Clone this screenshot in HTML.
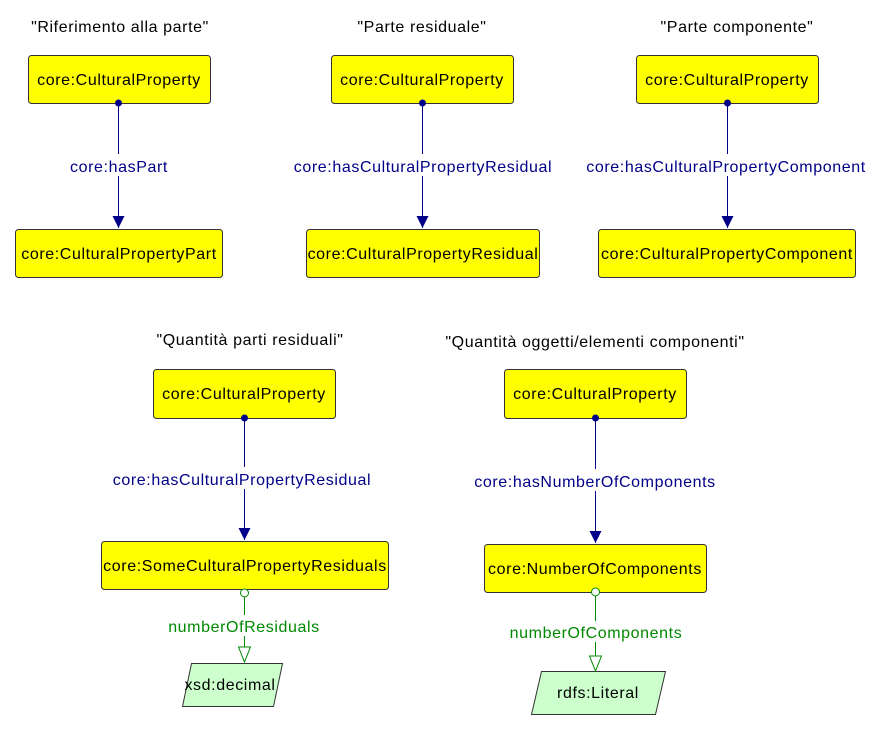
<!DOCTYPE html>
<html><head><meta charset="utf-8"><style>
html,body{margin:0;padding:0;background:#fff}
svg text{font-family:"Liberation Sans",sans-serif;font-size:16px;letter-spacing:0.6px}
</style></head><body>
<svg width="885" height="729" viewBox="0 0 885 729" xmlns="http://www.w3.org/2000/svg">
<defs>
<marker id="a" viewBox="0 0 10 10" refX="10" refY="5" markerWidth="12" markerHeight="12" markerUnits="userSpaceOnUse" orient="auto"><path d="M0,0L10,5L0,10z" fill="#000088"/></marker>
</defs>
<g fill="#000" text-anchor="middle">
<text x="120" y="32">"Riferimento alla parte"</text>
<text x="422" y="32">"Parte residuale"</text>
<text x="737" y="32">"Parte componente"</text>
<text x="250" y="345">"Quantità parti residuali"</text>
<text x="595" y="347">"Quantità oggetti/elementi componenti"</text>
</g>
<g fill="#ffff00" stroke="#333" stroke-width="1">
<rect x="28.5" y="55.5" width="182" height="48" rx="3"/>
<rect x="15.5" y="229.5" width="207" height="48" rx="3"/>
<rect x="331.5" y="55.5" width="182" height="48" rx="3"/>
<rect x="306.5" y="229.5" width="233" height="48" rx="3"/>
<rect x="636.5" y="55.5" width="182" height="48" rx="3"/>
<rect x="598.5" y="229.5" width="257" height="48" rx="3"/>
<rect x="153.5" y="369.5" width="182" height="49" rx="3"/>
<rect x="101.5" y="541.5" width="287" height="48" rx="3"/>
<rect x="504.5" y="369.5" width="182" height="49" rx="3"/>
<rect x="484.5" y="544.5" width="222" height="48" rx="3"/>
</g>
<g fill="#ccffcc" stroke="#333">
<polygon points="191.5,663.5 282.5,663.5 273.5,706.5 182.5,706.5"/>
<polygon points="541.5,671.5 665.5,671.5 655.5,714.5 531.5,714.5"/>
</g>
<g fill="#000" text-anchor="middle">
<text x="119" y="85">core:CulturalProperty</text>
<text x="119" y="259">core:CulturalPropertyPart</text>
<text x="422" y="85">core:CulturalProperty</text>
<text x="423" y="259">core:CulturalPropertyResidual</text>
<text x="727" y="85">core:CulturalProperty</text>
<text x="727" y="259">core:CulturalPropertyComponent</text>
<text x="244" y="399">core:CulturalProperty</text>
<text x="245" y="571">core:SomeCulturalPropertyResiduals</text>
<text x="595" y="399">core:CulturalProperty</text>
<text x="595" y="574">core:NumberOfComponents</text>
<text x="230" y="690">xsd:decimal</text>
<text x="598" y="698">rdfs:Literal</text>
</g>
<g stroke="#000088" stroke-width="1" fill="none">
<line x1="118.5" y1="103" x2="118.5" y2="154"/><line x1="118.5" y1="176" x2="118.5" y2="228" marker-end="url(#a)"/>
<line x1="422.5" y1="103" x2="422.5" y2="154"/><line x1="422.5" y1="176" x2="422.5" y2="228" marker-end="url(#a)"/>
<line x1="727.5" y1="103" x2="727.5" y2="154"/><line x1="727.5" y1="176" x2="727.5" y2="228" marker-end="url(#a)"/>
<line x1="244.5" y1="418" x2="244.5" y2="467"/><line x1="244.5" y1="489" x2="244.5" y2="540" marker-end="url(#a)"/>
<line x1="595.5" y1="418" x2="595.5" y2="469"/><line x1="595.5" y1="491" x2="595.5" y2="543" marker-end="url(#a)"/>
</g>
<g fill="#000088">
<circle cx="118.5" cy="103" r="3.5"/><circle cx="422.5" cy="103" r="3.5"/><circle cx="727.5" cy="103" r="3.5"/>
<circle cx="244.5" cy="418" r="3.5"/><circle cx="595.5" cy="418" r="3.5"/>
</g>
<g fill="#000088" text-anchor="middle">
<text x="119" y="172">core:hasPart</text>
<text x="423" y="172">core:hasCulturalPropertyResidual</text>
<text x="726" y="172">core:hasCulturalPropertyComponent</text>
<text x="242" y="485">core:hasCulturalPropertyResidual</text>
<text x="595" y="487">core:hasNumberOfComponents</text>
</g>
<g stroke="#008800" fill="#fff">
<line x1="244.5" y1="597" x2="244.5" y2="615"/><line x1="244.5" y1="636" x2="244.5" y2="647"/>
<circle cx="244.5" cy="593" r="4"/>
<polygon points="238.5,647 250.5,647 244.5,662"/>
<line x1="595.5" y1="596" x2="595.5" y2="621"/><line x1="595.5" y1="642" x2="595.5" y2="656"/>
<circle cx="595.5" cy="592" r="4"/>
<polygon points="589.5,656 601.5,656 595.5,671"/>
</g>
<g fill="#008800" text-anchor="middle">
<text x="244" y="632">numberOfResiduals</text>
<text x="596" y="638">numberOfComponents</text>
</g>
</svg>
</body></html>
